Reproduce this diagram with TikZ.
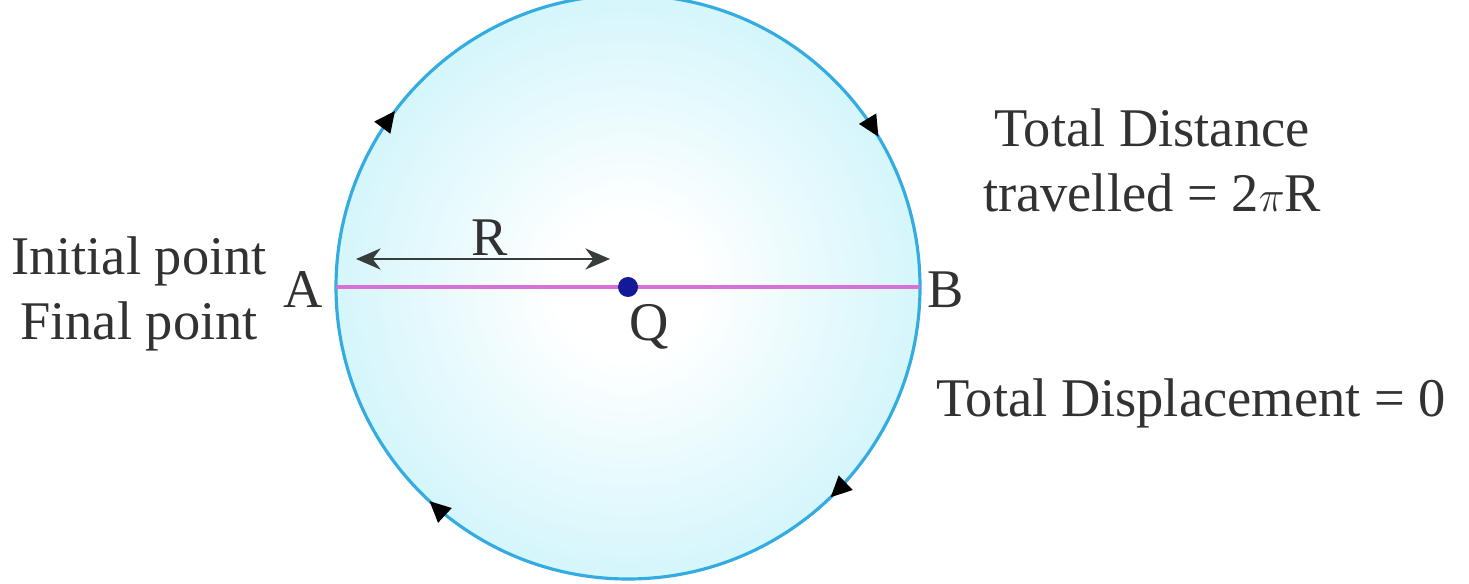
\documentclass[tikz,border=0pt]{standalone}
\usepackage{fontspec}
\setmainfont{Liberation Serif}
\usetikzlibrary{arrows.meta,decorations.markings}
\definecolor{rim}{RGB}{52,172,225}
\definecolor{fillin}{RGB}{210,245,251}
\definecolor{fillout}{RGB}{160,226,245}
\definecolor{diam}{RGB}{216,112,216}
\definecolor{dotc}{RGB}{20,25,150}
\definecolor{rarrow}{RGB}{55,60,60}
\definecolor{txt}{RGB}{50,50,50}
\pgfdeclareradialshading{disc}{\pgfpoint{0bp}{0bp}}{color(0bp)=(white); color(6bp)=(white); color(26bp)=(fillin); color(50bp)=(fillout); color(70bp)=(fillout)}
\tikzset{
  lbl/.style={text=txt, font=\fontsize{31}{37}\selectfont, inner sep=0pt},
  runarrow/.style={postaction={decorate}, decoration={markings,
     mark=at position 0.103 with {\arrow[black]{Triangle[length=12pt,width=11pt]}},
     mark=at position 0.414 with {\arrow[black]{Triangle[length=12pt,width=11pt]}},
     mark=at position 0.628 with {\arrow[black]{Triangle[length=12pt,width=11pt]}},
     mark=at position 0.869 with {\arrow[black]{Triangle[length=12pt,width=11pt]}}}}
}
\begin{document}
\begin{tikzpicture}[x=0.02cm,y=0.02cm]
\useasboundingbox (0,0) rectangle (1469,584);
\clip (0,0) rectangle (1469,584);
\fill[white] (0,0) rectangle (1469,584);
\coordinate (O) at (628,297);
\shade[shading=disc] (O) circle[radius=292];
\draw[rim, line width=1.8pt, runarrow] (336,297) arc[start angle=180, end angle=-180, radius=292];
\coordinate (A0) at (336,297);
\coordinate (B0) at (920,297);
\draw[diam, line width=2.4pt] (A0) -- (B0);
\fill[dotc] (O) circle[radius=10];
\coordinate (R1) at (356,325);
\coordinate (R2) at (610,325);
\draw[rarrow, line width=1.6pt, {Stealth[length=14pt,width=12pt]}-{Stealth[length=14pt,width=12pt]}] (R1) -- (R2);
\node[lbl] (R) at (490,346) {R};
\node[lbl] (A) at (303,294) {A};
\node[lbl] (B) at (946,294) {B};
\node[lbl] (Q) at (649,257) {Q};
\node[lbl, align=center] (left) at (139,290) {Initial point\\Final point};
\node[lbl, align=center] (dist) at (1152,424) {Total Distance\\travelled = 2$\pi$R};
\node[lbl] (disp) at (1191,181) {Total Displacement = 0};
\end{tikzpicture}
\end{document}
